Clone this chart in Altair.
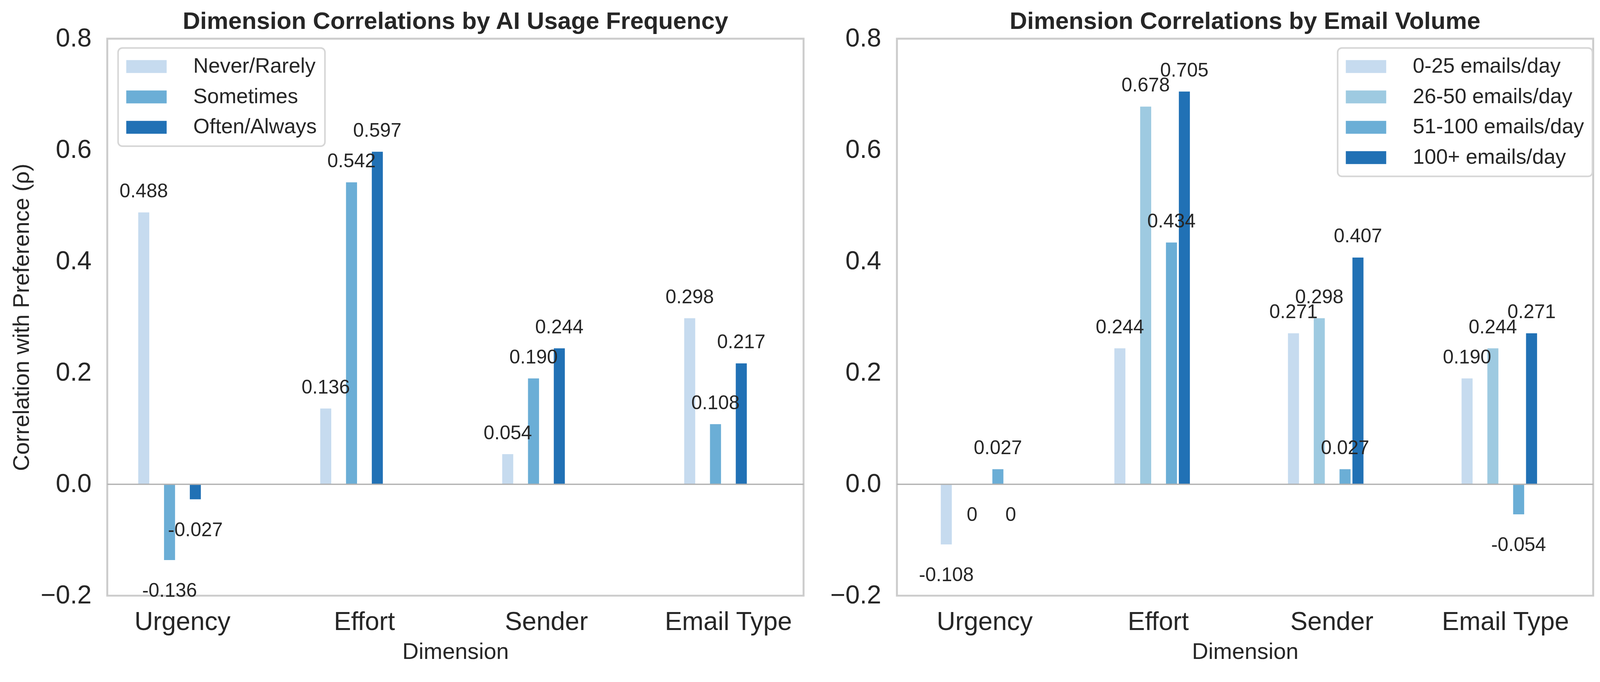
import altair as alt
import pandas as pd

# ---------------- data ----------------
dimensions = ["Urgency", "Effort", "Sender", "Email Type"]

ai_groups = ["Never/Rarely", "Sometimes", "Often/Always"]
ai_colors = ["#c6dbef", "#6baed6", "#2171b5"]
ai_never = [0.488, 0.136, 0.054, 0.298]
ai_sometimes = [-0.136, 0.542, 0.190, 0.108]
ai_often = [-0.027, 0.597, 0.244, 0.217]

vol_groups = ["0-25 emails/day", "26-50 emails/day", "51-100 emails/day", "100+ emails/day"]
vol_colors = ["#c6dbef", "#9ecae1", "#6baed6", "#2171b5"]
vol_0_25 = [-0.108, 0.244, 0.271, 0.190]
vol_26_50 = [0.0, 0.678, 0.298, 0.244]
vol_51_100 = [0.027, 0.434, 0.027, -0.054]
vol_100_plus = [0.0, 0.705, 0.407, 0.271]

y_ticks = [-0.2, 0.0, 0.2, 0.4, 0.6, 0.8]

FONT = "Liberation Sans"
TXT = "#262626"
SYMBOL_PATH = "M-3.135,-1H3.135V1H-3.135Z"


def frame(groups, series):
    rows = []
    for g, vals in zip(groups, series):
        for d, v in zip(dimensions, vals):
            rows.append({"Dimension": d, "Group": g, "Value": v})
    return pd.DataFrame(rows)


def panel(df, groups, colors, title, pin, pout, lx, ly, ytitle):
    base = alt.Chart(df).transform_calculate(
        Label="datum.Value === 0 ? '0' : replace(format(datum.Value, '.3f'), '\u2212', '-')"
    )
    x = alt.X(
        "Dimension:N",
        sort=dimensions,
        title="Dimension",
        scale=alt.Scale(paddingInner=pin, paddingOuter=pout),
        axis=alt.Axis(labelAngle=0),
    )
    xo = alt.XOffset(
        "Group:N", sort=groups,
        scale=alt.Scale(paddingInner=0.144, paddingOuter=0.072),
    )
    if ytitle:
        yaxis = alt.Axis(values=y_ticks, format=".1f", title=ytitle)
    else:
        yaxis = alt.Axis(values=y_ticks, format=".1f", title=None)
    y = alt.Y(
        "Value:Q",
        scale=alt.Scale(domain=[-0.2, 0.8], nice=False, zero=False),
        axis=yaxis,
    )
    color = alt.Color(
        "Group:N",
        sort=groups,
        scale=alt.Scale(domain=groups, range=colors),
        legend=alt.Legend(
            title=None, orient="none", legendX=lx, legendY=ly,
            symbolType=SYMBOL_PATH, symbolSize=1111, symbolOffset=25.25,
            symbolStrokeWidth=0, labelOffset=94, rowPadding=23.5, padding=21,
            labelFontSize=54.2, labelFont=FONT, labelColor=TXT, labelLimit=1000,
            fillColor="white", strokeColor="#d6d6d6", cornerRadius=11,
        ),
    )
    bars = base.mark_bar().encode(x=x, xOffset=xo, y=y, color=color)
    zero = base.transform_aggregate(n="count()").mark_rule(
        color="#b0b0b0", strokeWidth=3.3
    ).encode(y=alt.datum(0))
    pos = base.transform_filter("datum.Value > 0").mark_text(
        baseline="alphabetic", dy=-39, fontSize=50, font=FONT, color=TXT
    ).encode(x=x, xOffset=xo, y=y, text="Label:N")
    neg = base.transform_filter("datum.Value <= 0").mark_text(
        baseline="alphabetic", dy=95, fontSize=50, font=FONT, color=TXT
    ).encode(x=x, xOffset=xo, y=y, text="Label:N")
    return alt.layer(bars, zero, pos, neg).properties(
        width=1801,
        height=1440,
        title=alt.TitleParams(
            title, fontSize=62.5, fontWeight="bold", font=FONT, color=TXT,
            anchor="middle", frame="group", baseline="top", offset=0, dy=21,
        ),
    )


left = panel(
    frame(ai_groups, [ai_never, ai_sometimes, ai_often]),
    ai_groups, ai_colors,
    "Dimension Correlations by AI Usage Frequency",
    0.504, 0.165, 28, 24, "Correlation with Preference (\u03c1)",
)
right = panel(
    frame(vol_groups, [vol_0_25, vol_26_50, vol_51_100, vol_100_plus]),
    vol_groups, vol_colors,
    "Dimension Correlations by Email Volume",
    0.335, 0.173, 1140, 24, None,
)

chart = (
    alt.hconcat(left, right, spacing=53.5)
    .resolve_scale(color="independent", x="independent")
    .resolve_legend(color="independent")
    .properties(padding={"left": 16.4, "top": 5, "right": 5, "bottom": 5}, background="white")
    .configure(font=FONT)
    .configure_view(stroke="#cccccc", strokeWidth=5)
    .configure_axis(
        labelFont=FONT, titleFont=FONT, labelColor=TXT, titleColor=TXT,
        labelFontSize=66.7, titleFontSize=58.3, titleFontWeight="normal",
        grid=False, domain=False, ticks=False, tickSize=0, labelLimit=1000, titleLimit=3000,
    )
    .configure_axisX(labelPadding=35.6, titlePadding=14.6)
    .configure_axisY(labelPadding=41, titlePadding=11, minExtent=180, maxExtent=180)
    .configure_legend(strokeWidth=4)
)

chart.save("out.html", embed_options={"renderer": "svg", "actions": False})
